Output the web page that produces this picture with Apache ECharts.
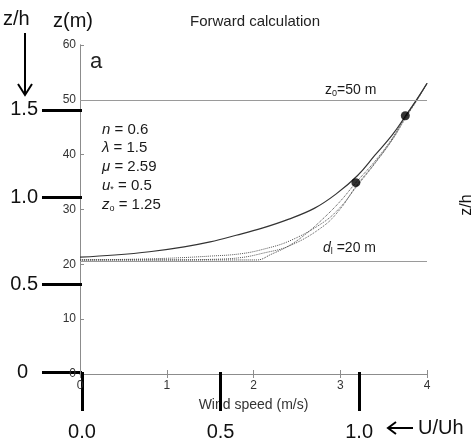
<!DOCTYPE html>
<html><head><meta charset="utf-8">
<script src="https://cdn.jsdelivr.net/npm/echarts@6/dist/echarts.min.js"></script>
<style>html,body{margin:0;padding:0;background:#fff}#c{width:474px;height:442px}</style>
</head><body><div id="c"></div>
<script>
// ---- data ----
const curveSolid = [[0,21.3],[0.4,21.7],[0.8,22.3],[1.2,23.2],[1.5,24.1],[1.8,25.3],[2.1,26.6],[2.4,28.2],[2.7,30.2],[2.95,32.8],[3.2,36.2],[3.4,39.9],[3.6,43.6],[3.75,47.0],[3.9,50.5],[4.0,53.0]];
const curveDot1 = [[0,20.8],[0.5,20.9],[1.0,21.1],[1.5,21.5],[1.84,21.9],[2.1,22.7],[2.42,24.3],[2.8,27.6],[3.0,30.4],[3.18,34.0],[3.4,38.4],[3.6,42.7],[3.75,46.6],[3.9,50.3],[4.0,53.0]];
const curveDot2 = [[0,20.8],[1.0,20.8],[1.5,20.9],[1.84,21.2],[2.1,22.0],[2.42,23.4],[2.8,26.9],[3.0,30.1],[3.18,34.2],[3.4,38.5],[3.6,42.8],[3.75,46.8],[3.9,50.4],[4.0,53.0]];
const curveDot3 = [[0,20.8],[2.04,20.8],[2.2,21.8],[2.42,23.5],[2.6,25.5],[2.8,28.3],[3.0,31.5],[3.18,34.9],[3.4,38.8],[3.6,43.0],[3.75,47.0],[3.9,50.5],[4.0,53.0]];
const observed = [[3.18,34.9],[3.75,47.1]];
const z0Level = 50;
const dlLevel = 20.6;
const windTicks = [0,1,2,3,4];
const zTicks = [0,10,20,30,40,50,60];
const zhTicks = [0,0.5,1.0,1.5];
const zhLabels = ['{z|0}','0.5','1.0','1.5'];
const uTicks = [0,0.5,1.0];
const uLabels = ['0.0','0.5','1.0'];
const paramLines = [
  '{i|n} = 0.6',
  '{i|λ} = 1.5',
  '{i|μ} = 2.59',
  '{i|u}{s|*} = 0.5',
  '{i|z}{s|o} = 1.25'
];

const FF = "'Liberation Sans', Arial, sans-serif";
const chart = echarts.init(document.getElementById('c'), null, {renderer:'canvas'});
function lbl(ticks, labels){ return v => { const i = ticks.findIndex(t => Math.abs(t - v) < 1e-6); return i >= 0 ? labels[i] : ''; }; }
const axisGray = '#8c8c8c';
function txt(x, y, text, size, opts){
  opts = opts || {};
  return {type:'text', x:x, y:y, rotation: opts.rotation || 0, z: 50,
    style:{text:text, fontSize:size, fontFamily:FF, fill: opts.fill || '#1a1a1a',
      textAlign: opts.align || 'left', textVerticalAlign: opts.valign || 'middle',
      align: opts.align || 'left', verticalAlign: opts.valign || 'middle',
      fontStyle: opts.italic ? 'italic' : 'normal', rich: opts.rich}};
}
const rich = {n:{fontSize:15}, i:{fontStyle:'italic', fontSize:15, fontFamily:FF, color:'#1a1a1a'}, s:{fontSize:9, fontFamily:FF, verticalAlign:'bottom', padding:[8,0,0,0], color:'#1a1a1a'}};
const graphics = [
  txt(255, 22, 'Forward calculation', 15, {align:'center', fill:'#222'}),
  txt(3, 19, 'z/h', 20, {fill:'#111'}),
  txt(53, 21, 'z(m)', 20, {fill:'#111'}),
  txt(90, 62, 'a', 22, {fill:'#222'}),
  {type:'line', z:50, shape:{x1:25,y1:33,x2:25,y2:94}, style:{stroke:'#000', lineWidth:2}},
  {type:'polyline', z:50, shape:{points:[[18,84],[25,95],[32,84]]}, style:{stroke:'#000', lineWidth:2, fill:null}},
  {type:'line', z:50, shape:{x1:389,y1:428,x2:413,y2:428}, style:{stroke:'#000', lineWidth:2}},
  {type:'polyline', z:50, shape:{points:[[396,422],[388,428],[396,434]]}, style:{stroke:'#000', lineWidth:2, fill:null}},
  txt(418, 428, 'U/Uh', 20, {fill:'#111'}),
  txt(467, 205, 'z/h', 16, {align:'center', fill:'#111', rotation: Math.PI/2}),
  txt(325, 90, '{n|z}{s|0}{n|=50 m}', 14, {rich:{n:{fontSize:14, fontFamily:FF, color:'#222'}, s:{fontSize:9, fontFamily:FF, padding:[8,0,0,0], color:'#222'}}}),
  txt(323, 248, '{i|d}{s|l}{n| =20 m}', 14, {rich:{i:{fontSize:14, fontStyle:'italic', fontFamily:FF, color:'#222'}, n:{fontSize:14, fontFamily:FF, color:'#222'}, s:{fontSize:9, fontFamily:FF, padding:[8,0,0,0], color:'#222'}}})
];
const paramY = [130, 148, 167, 186, 205];
paramLines.forEach((t, k) => graphics.push(txt(102, paramY[k], t, 15, {rich:rich})));

const dotted = {color:'#555', width:1, type:'dotted'};
const option = {
  animation:false,
  grid:{left:80, right:47, top:45, bottom:68, show:false},
  graphic: graphics,
  xAxis:[
    {type:'value', position:'bottom', min:0, max:4, interval:1,
      axisLine:{lineStyle:{color:axisGray, width:1}}, axisTick:{inside:true, length:4, lineStyle:{color:axisGray}},
      axisLabel:{fontSize:12, color:'#333', fontFamily:FF, margin:6, customValues: windTicks},
      splitLine:{show:false},
      name:'Wind speed (m/s)', nameLocation:'middle', nameGap:24, nameTextStyle:{fontSize:14, color:'#333', fontFamily:FF}},
    {type:'value', position:'top', min:0, max:4, interval:1,
      axisLine:{lineStyle:{color:axisGray}}, axisTick:{inside:true, length:4, lineStyle:{color:axisGray}},
      axisLabel:{show:false}, splitLine:{show:false}},
    {type:'value', position:'bottom', offset:0, min:-0.0072, max:1.245,
      axisLine:{show:false},
      axisTick:{show:true, inside:false, length:39, customValues: uTicks, lineStyle:{color:'#000', width:3}},
      axisLabel:{customValues: uTicks, formatter: lbl(uTicks, uLabels), fontSize:20, color:'#111', fontFamily:FF, margin:48},
      splitLine:{show:false}}
  ],
  yAxis:[
    {type:'value', position:'left', min:0, max:60, interval:10,
      axisLine:{show:true, lineStyle:{color:axisGray}}, axisTick:{inside:true, length:4, lineStyle:{color:axisGray}},
      axisLabel:{fontSize:12, color:'#333', fontFamily:FF, margin:4, customValues: zTicks}, splitLine:{show:false}},
    {type:'value', position:'right', min:0, max:60, interval:10,
      axisLine:{show:true, lineStyle:{color:axisGray}}, axisTick:{inside:false, length:3, lineStyle:{color:axisGray}},
      axisLabel:{show:false}, splitLine:{show:false}},
    {type:'value', position:'left', offset:0, min:-0.0114, max:1.872,
      axisLine:{show:false},
      axisTick:{show:true, inside:false, length:40, customValues: zhTicks, lineStyle:{color:'#000', width:3}},
      axisLabel:{customValues: zhTicks, formatter: lbl(zhTicks, zhLabels), fontSize:20, color:'#111', fontFamily:FF, margin:42,
        rich:{z:{fontSize:20, color:'#111', fontFamily:FF, padding:[0,10,0,0]}}},
      splitLine:{show:false}}
  ],
  series:[
    {type:'line', data:[], markLine:{silent:true, symbol:'none', label:{show:false},
      lineStyle:{color:'#9a9a9a', width:1, type:'solid'}, data:[{yAxis:z0Level},{yAxis:dlLevel}]}},
    {type:'line', data:curveDot1, smooth:0.4, showSymbol:false, lineStyle:dotted},
    {type:'line', data:curveDot2, smooth:0.4, showSymbol:false, lineStyle:dotted},
    {type:'line', data:curveDot3, smooth:0.4, showSymbol:false, lineStyle:{color:'#444', width:1, type:'dotted'}},
    {type:'line', data:curveSolid, smooth:0.4, showSymbol:false, lineStyle:{color:'#333', width:1.2}},
    {type:'scatter', data:observed, symbol:'circle', symbolSize:9, itemStyle:{color:'#000'}, z:10}
  ]
};
chart.setOption(option);
</script></body></html>
